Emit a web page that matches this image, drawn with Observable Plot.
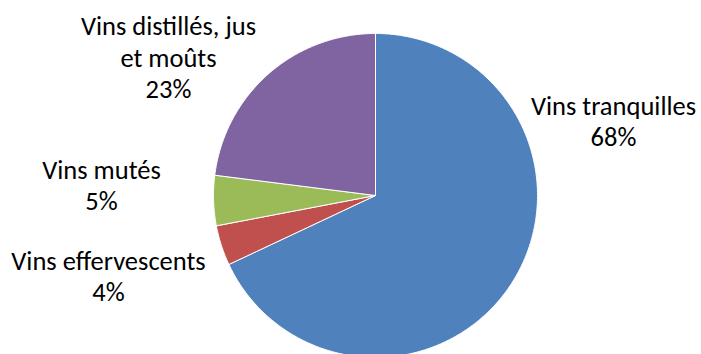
<!DOCTYPE html>
<html><head><meta charset="utf-8">
<script src="https://cdn.jsdelivr.net/npm/d3@7"></script>
<script src="https://cdn.jsdelivr.net/npm/@observablehq/plot@0.6"></script>
<style>body{margin:0;background:#fff}</style>
</head><body><div id="chart"></div>
<script>
// Data
const categories = ["Vins tranquilles", "Vins effervescents", "Vins mutés", "Vins distillés, jus et moûts"];
const labels = ["Vins tranquilles", "Vins effervescents", "Vins mutés", "Vins distillés, jus\net moûts"];
const shares = [68, 4, 5, 23];
const colors = ["#4F81BD", "#C0504D", "#9BBB59", "#8064A2"];
// Layout (label offsets from pie centre, px, y up)
const labelDx = [238, -267, -274, -207];
const labelDy = [75, -80, 11, 139];

const R = 162;
const total = d3.sum(shares);
const pts = [];
let acc = 0;
shares.forEach((v, i) => {
  const a0 = acc / total * 2 * Math.PI;
  acc += v;
  const a1 = acc / total * 2 * Math.PI;
  pts.push({cat: categories[i], x: 0, y: 0});
  const n = Math.max(2, Math.ceil((a1 - a0) / (Math.PI / 360)));
  for (let k = 0; k <= n; k++) {
    const a = a0 + (a1 - a0) * k / n;
    pts.push({cat: categories[i], x: R * Math.sin(a), y: R * Math.cos(a)});
  }
  pts.push({cat: categories[i], x: 0, y: 0});
});
const lab = categories.map((c, i) => ({
  text: labels[i] + "\n" + shares[i] + "%",
  x: labelDx[i], y: labelDy[i]
}));

const chart = Plot.plot({
  width: 701, height: 354,
  margin: 0,
  x: {domain: [-375, 326], axis: null},
  y: {domain: [-159, 195], axis: null},
  color: {domain: categories, range: colors},
  style: {fontFamily: "Carlito, Lato, sans-serif", background: "#fff"},
  marks: [
    Plot.line(pts, {x: "x", y: "y", z: "cat", fill: "cat", stroke: "#fff", strokeWidth: 1, curve: "linear"}),
    Plot.text(lab, {x: "x", y: "y", text: "text", fontSize: 26.5, lineHeight: 1.18, fill: "#000", textAnchor: "middle", lineAnchor: "middle"})
  ]
});
document.getElementById("chart").appendChild(chart);
</script></body></html>
